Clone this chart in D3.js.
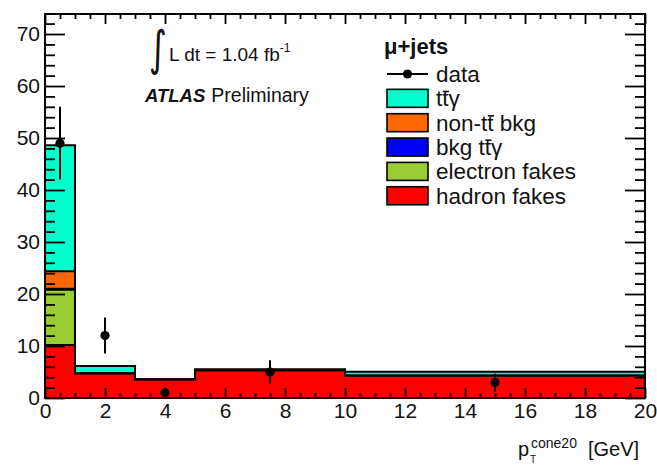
<!DOCTYPE html>
<html>
<head>
<meta charset="utf-8">
<script src="https://cdn.jsdelivr.net/npm/d3@7"></script>
<style>
  body { margin: 0; background: #fff; }
  svg { display: block; }
  text { font-family: "Liberation Sans", Arial, Helvetica, sans-serif; fill: #111; }
</style>
</head>
<body>
<svg id="chart" width="657" height="465"></svg>
<script>
// Photon isolation p_T^cone20 in mu+jets: stacked expectation vs data
const binEdges      = [0, 1, 3, 5, 10, 20];
const hadronFakes   = [10.2, 4.7, 3.5, 5.3, 4.3];
const electronFakes = [10.6, 0, 0, 0, 0];
const bkgTtgamma    = [0.2, 0, 0, 0, 0];
const nonTtBkg      = [3.4, 0, 0, 0, 0];
const ttgamma       = [24.2, 1.45, 0.1, 0.25, 0.75];

const dataX   = [0.5, 2, 4, 7.5, 15];
const dataY   = [49, 12, 1, 5, 3];
const dataErr = [7, 3.46, 1, 2.24, 1.73];

const xTickValues = [0, 2, 4, 6, 8, 10, 12, 14, 16, 18, 20];
const xTickLabels = ["0", "2", "4", "6", "8", "10", "12", "14", "16", "18", "20"];
const yTickValues = [0, 10, 20, 30, 40, 50, 60, 70];
const yTickLabels = ["0", "10", "20", "30", "40", "50", "60", "70"];

const layerKeys   = ["hadron", "electron", "bkgtt", "nontt", "ttg"];
const layerColors = { hadron: "#ff0000", electron: "#99cc33", bkgtt: "#0000ff", nontt: "#ff6600", ttg: "#00ffcc" };

const svg = d3.select("#chart");
const L = 45, R = 645, T = 14, B = 398;

const x = d3.scaleLinear().domain([0, 20]).range([L, R]);
const y = d3.scaleLinear().domain([0, 73.85]).range([B, T]);

// per-bin table for the stack
const rows = binEdges.slice(0, -1).map((e, i) => ({
  hadron: hadronFakes[i], electron: electronFakes[i], bkgtt: bkgTtgamma[i],
  nontt: nonTtBkg[i], ttg: ttgamma[i]
}));
const series = d3.stack().keys(layerKeys)(rows);
const nBins = rows.length;

const stepArea = d3.area()
  .curve(d3.curveStepAfter)
  .x(d => x(d[0]))
  .y0(y(0))
  .y1(d => y(d[1]));

// draw from the total down, each filled from zero with its black outline
const histG = svg.append("g");
series.slice().reverse().forEach(s => {
  const pts = binEdges.map((e, i) => [e, s[Math.min(i, nBins - 1)][1]]);
  histG.append("path")
    .attr("d", stepArea(pts))
    .attr("fill", layerColors[s.key])
    .attr("stroke", "#000")
    .attr("stroke-width", 2)
    .attr("stroke-linejoin", "miter");
});

// axes: ticks point inward on all four sides
function styleAxis(g) {
  g.select(".domain").remove();
  g.selectAll(".tick line").attr("stroke", "#000").attr("stroke-width", 1.8);
  g.selectAll("text").attr("fill", "#111").style("font-family", '"Liberation Sans", Arial, sans-serif');
}
const xMinor = d3.range(0, 20.001, 0.5).filter(v => v % 2 !== 0);
const yMinor = d3.range(0, 73, 2).filter(v => v % 10 !== 0);

const axG = svg.append("g");
axG.append("g").attr("transform", `translate(0,${B})`)
  .call(d3.axisBottom(x).tickValues(xMinor).tickSizeInner(-5).tickSizeOuter(0).tickFormat(""))
  .call(styleAxis);
axG.append("g").attr("transform", `translate(0,${B})`)
  .call(d3.axisBottom(x).tickValues(xTickValues).tickSizeInner(-10).tickSizeOuter(0).tickPadding(5)
    .tickFormat((d, i) => xTickLabels[i]))
  .call(styleAxis)
  .call(g => g.selectAll("text").attr("font-size", 21));
axG.append("g").attr("transform", `translate(0,${T})`)
  .call(d3.axisTop(x).tickValues(xMinor).tickSizeInner(-5).tickSizeOuter(0).tickFormat(""))
  .call(styleAxis);
axG.append("g").attr("transform", `translate(0,${T})`)
  .call(d3.axisTop(x).tickValues(xTickValues).tickSizeInner(-10).tickSizeOuter(0).tickFormat(""))
  .call(styleAxis);

axG.append("g").attr("transform", `translate(${L},0)`)
  .call(d3.axisLeft(y).tickValues(yMinor).tickSizeInner(-10).tickSizeOuter(0).tickFormat(""))
  .call(styleAxis);
axG.append("g").attr("transform", `translate(${L},0)`)
  .call(d3.axisLeft(y).tickValues(yTickValues).tickSizeInner(-20).tickSizeOuter(0).tickPadding(5)
    .tickFormat((d, i) => yTickLabels[i]))
  .call(styleAxis)
  .call(g => g.selectAll("text").attr("font-size", 21));
axG.append("g").attr("transform", `translate(${R},0)`)
  .call(d3.axisRight(y).tickValues(yMinor).tickSizeInner(-10).tickSizeOuter(0).tickFormat(""))
  .call(styleAxis);
axG.append("g").attr("transform", `translate(${R},0)`)
  .call(d3.axisRight(y).tickValues(yTickValues).tickSizeInner(-20).tickSizeOuter(0).tickFormat(""))
  .call(styleAxis);

// frame
svg.append("rect")
  .attr("x", L).attr("y", T).attr("width", R - L).attr("height", B - T)
  .attr("fill", "none").attr("stroke", "#000").attr("stroke-width", 2);

// data points with statistical error bars
const dataG = svg.append("g");
dataX.forEach((xv, i) => {
  dataG.append("line")
    .attr("x1", x(xv)).attr("x2", x(xv))
    .attr("y1", y(Math.max(0, dataY[i] - dataErr[i]))).attr("y2", y(dataY[i] + dataErr[i]))
    .attr("stroke", "#000").attr("stroke-width", 2);
  dataG.append("circle")
    .attr("cx", x(xv)).attr("cy", y(dataY[i])).attr("r", 4.6)
    .attr("fill", "#000");
});

// luminosity and experiment labels
svg.append("text").attr("transform", "translate(149,65) scale(0.72,1)").attr("font-size", 48)
  .style("font-family", '"DejaVu Sans", sans-serif').text("∫");
const lumi = svg.append("text").attr("x", 169).attr("y", 61).attr("font-size", 19);
lumi.append("tspan").text("L dt = 1.04 fb");
lumi.append("tspan").attr("dy", -9).attr("font-size", 12).text("-1");

const atlas = svg.append("text").attr("x", 145).attr("y", 102).attr("font-size", 18.5);
atlas.append("tspan").attr("font-weight", "bold").attr("font-style", "italic").text("ATLAS");
atlas.append("tspan").attr("dx", 6).attr("font-size", 19.5).text("Preliminary");

// legend
const legG = svg.append("g");
legG.append("text").attr("x", 384).attr("y", 54).attr("font-size", 22).attr("font-weight", "bold").text("μ+jets");

const legRowY0 = 74, legStep = 24.35, boxX = 387, boxW = 41, boxH = 18, textX = 436, legFont = 22.5;
legG.append("line").attr("x1", boxX).attr("x2", boxX + boxW)
  .attr("y1", legRowY0).attr("y2", legRowY0).attr("stroke", "#000").attr("stroke-width", 2);
legG.append("circle").attr("cx", boxX + boxW / 2).attr("cy", legRowY0).attr("r", 4.6).attr("fill", "#000");
legG.append("text").attr("x", textX).attr("y", legRowY0 + 8).attr("font-size", legFont).text("data");

// label pieces: [text, overlined?]
const legendEntries = [
  { key: "ttg",      parts: [["t", false], ["t", true], ["γ", false]] },
  { key: "nontt",    parts: [["non-t", false], ["t", true], [" bkg", false]] },
  { key: "bkgtt",    parts: [["bkg t", false], ["t", true], ["γ", false]] },
  { key: "electron", parts: [["electron fakes", false]] },
  { key: "hadron",   parts: [["hadron fakes", false]] }
];
legendEntries.forEach((e, i) => {
  const cy = legRowY0 + legStep * (i + 1);
  const base = cy + 8;
  legG.append("rect").attr("x", boxX).attr("y", cy - boxH / 2).attr("width", boxW).attr("height", boxH)
    .attr("fill", layerColors[e.key]).attr("stroke", "#000").attr("stroke-width", 1.6);
  const t = legG.append("text").attr("x", textX).attr("y", base).attr("font-size", legFont)
    .text(e.parts.map(p => p[0]).join(""));
  // anti-top bar drawn over the marked character
  let idx = 0;
  e.parts.forEach(([s, over]) => {
    if (over) {
      const node = t.node();
      const p0 = node.getStartPositionOfChar(idx).x;
      const p1 = node.getEndPositionOfChar(idx).x;
      legG.append("line").attr("x1", p0 + 0.5).attr("x2", p1 + 0.5)
        .attr("y1", base - legFont * 0.66).attr("y2", base - legFont * 0.66)
        .attr("stroke", "#111").attr("stroke-width", 1.6);
    }
    idx += s.length;
  });
});

// x-axis title: p_T^{cone20} [GeV]
const xt = svg.append("text").attr("y", 456).attr("font-size", 20);
xt.append("tspan").attr("x", 518).text("p");
xt.append("tspan").attr("x", 530).attr("y", 462.5).attr("font-size", 10).text("T");
xt.append("tspan").attr("x", 531).attr("y", 448).attr("font-size", 14).text("cone20");
xt.append("tspan").attr("x", 588).attr("y", 456).attr("font-size", 20).text("[GeV]");
</script>
</body>
</html>
